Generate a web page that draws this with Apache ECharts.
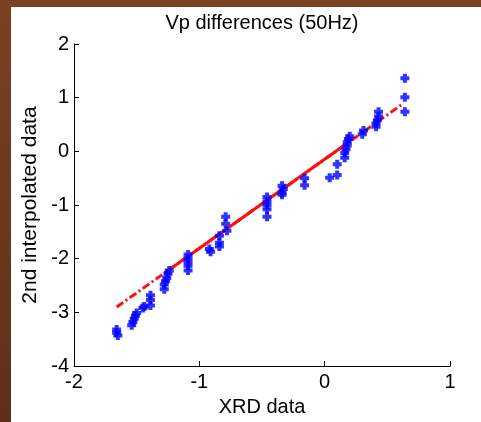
<!DOCTYPE html>
<html>
<head>
<meta charset="utf-8">
<script src="https://cdn.jsdelivr.net/npm/echarts@6/dist/echarts.min.js"></script>
<style>
  html, body { margin: 0; padding: 0; width: 481px; height: 422px; overflow: hidden;
    background: linear-gradient(180deg, #7a4222 0%, #6e3a1e 40%, #5e301a 100%); }
  #paper { position: absolute; left: 11px; top: 7px; width: 470px; height: 415px; background: #ffffff; }
  #chart { position: absolute; left: 0; top: 0; width: 481px; height: 422px; }
</style>
</head>
<body>
<div id="paper"></div>
<div id="chart"></div>
<script>
// Measured points: XRD value vs. second interpolated value
const xrd = [
  -1.66, -1.66, -1.65,
  -1.54, -1.53, -1.52, -1.51, -1.50,
  -1.45, -1.44,
  -1.39, -1.39, -1.39,
  -1.28, -1.28, -1.27, -1.26, -1.25, -1.24,
  -1.09, -1.09, -1.09, -1.09, -1.09,
  -0.92, -0.91,
  -0.84, -0.84, -0.84,
  -0.79, -0.79, -0.78,
  -0.46, -0.46, -0.46, -0.46, -0.46,
  -0.34, -0.33, -0.34, -0.34,
  -0.16, -0.16,
  0.04,
  0.10, 0.10,
  0.16, 0.16, 0.17, 0.18, 0.18, 0.19, 0.20,
  0.30, 0.31,
  0.41, 0.41, 0.42, 0.43, 0.43,
  0.64, 0.64, 0.64
];
const interp = [
  -3.32, -3.38, -3.43,
  -3.24, -3.18, -3.12, -3.06, -3.01,
  -2.92, -2.89,
  -2.68, -2.77, -2.87,
  -2.57, -2.48, -2.42, -2.36, -2.28, -2.22,
  -1.92, -1.99, -2.06, -2.13, -2.22,
  -1.82, -1.87,
  -1.57, -1.70, -1.77,
  -1.22, -1.35, -1.48,
  -0.85, -0.93, -1.00, -1.08, -1.22,
  -0.64, -0.70, -0.77, -0.81,
  -0.50, -0.63,
  -0.49,
  -0.24, -0.44,
  -0.12, -0.03, 0.04, 0.11, 0.17, 0.23, 0.28,
  0.32, 0.39,
  0.46, 0.52, 0.58, 0.65, 0.74,
  0.74, 1.01, 1.36
];

// Fit line (end points) and the densely drawn middle part of it
const fitX = [-1.66, 0.62];
const fitY = [-2.90, 0.88];
const denseX = [-1.28, 0.16];
const denseY = [-2.27, 0.12];

const xTicks = [-2, -1, 0, 1];
const yTicks = [-4, -3, -2, -1, 0, 1, 2];

const pts = xrd.map((x, i) => [x, interp[i]]);
const fitPts = fitX.map((x, i) => [x, fitY[i]]);
const densePts = denseX.map((x, i) => [x, denseY[i]]);

const font = '"Liberation Sans", Arial, sans-serif';
// bold plus marker
const plus = 'path://M2.5,0H6.5V2.5H9V6.5H6.5V9H2.5V6.5H0V2.5H2.5Z';

const chart = echarts.init(document.getElementById('chart'), null, { renderer: 'canvas' });
chart.setOption({
  backgroundColor: 'transparent',
  animation: false,
  graphic: [{
    type: 'text', x: 262, y: 13,
    style: {
      text: 'Vp differences (50Hz)', align: 'center', verticalAlign: 'top',
      font: '20px ' + font, fill: '#000'
    }
  }],
  grid: { left: 74, right: 31, top: 44, bottom: 53 },
  xAxis: {
    type: 'value', min: xTicks[0], max: xTicks[xTicks.length - 1], interval: 1,
    name: 'XRD data', nameLocation: 'middle', nameGap: 29,
    nameTextStyle: { fontFamily: font, fontSize: 20, color: '#000' },
    axisLine: { onZero: false, lineStyle: { color: '#000', width: 1 } },
    axisTick: { inside: true, length: 5, lineStyle: { color: '#000' } },
    axisLabel: { fontFamily: font, fontSize: 20, color: '#000', margin: 6 },
    splitLine: { show: false }
  },
  yAxis: {
    type: 'value', min: yTicks[0], max: yTicks[yTicks.length - 1], interval: 1,
    name: '2nd interpolated data', nameLocation: 'middle', nameGap: 24, nameRotate: 90,
    nameTextStyle: { fontFamily: font, fontSize: 21, color: '#000' },
    axisLine: { show: true, onZero: false, lineStyle: { color: '#000', width: 1 } },
    axisTick: { show: true, inside: true, length: 5, lineStyle: { color: '#000' } },
    axisLabel: { fontFamily: font, fontSize: 20, color: '#000', margin: 5 },
    splitLine: { show: false }
  },
  series: [
    {
      type: 'line', data: fitPts, symbol: 'none', z: 2,
      lineStyle: { color: '#ff1010', width: 3, type: [8, 3, 2, 3] }
    },
    {
      type: 'line', data: densePts, symbol: 'none', z: 2,
      lineStyle: { color: '#ff1010', width: 3 }
    },
    {
      type: 'scatter', data: pts, symbol: plus, symbolSize: 9, z: 3,
      itemStyle: { color: '#0000ff' }
    }
  ]
});
</script>
</body>
</html>
